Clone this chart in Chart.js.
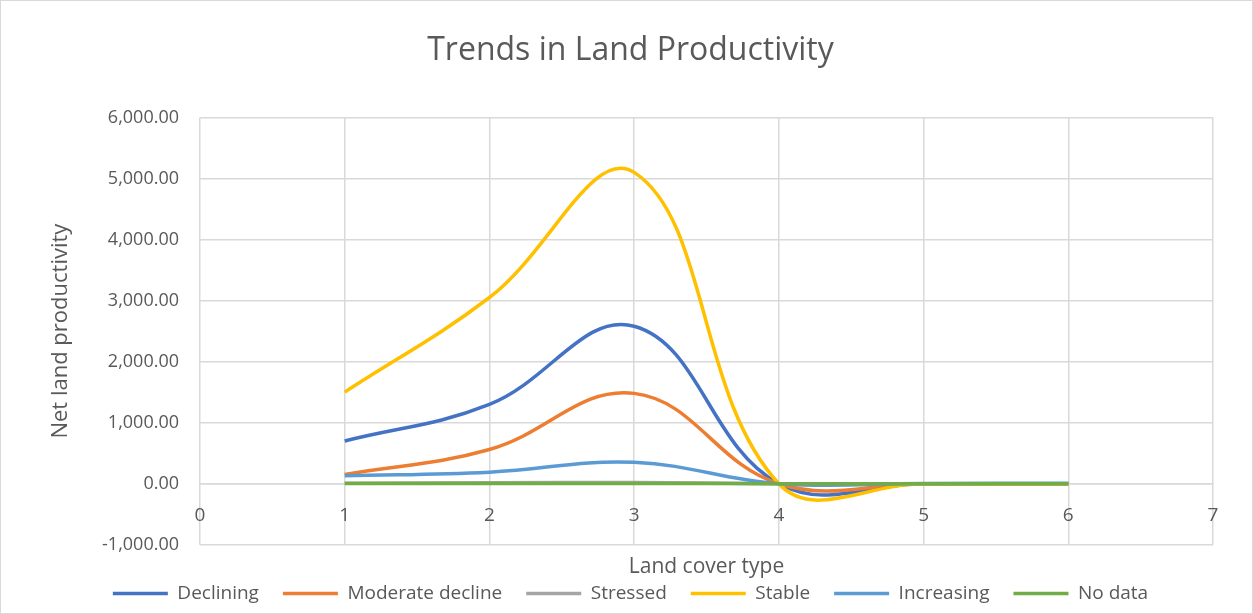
<!DOCTYPE html>
<html>
<head>
<meta charset="utf-8">
<script src="https://cdn.jsdelivr.net/npm/chart.js@4/dist/chart.umd.min.js"></script>
<style>
  html, body { margin: 0; padding: 0; background: #fff; }
  #wrap { position: relative; width: 1251px; height: 612px; border: 1px solid #d9d9d9; }
</style>
</head>
<body>
<div id="wrap"><canvas id="landChart"></canvas></div>
<script>
// land cover type index (x) for each value
const landCover = [1, 2, 3, 4, 5, 6];

const seriesNames = ['Declining', 'Moderate decline', 'Stressed', 'Stable', 'Increasing', 'No data'];
const seriesColors = ['#4472C4', '#ED7D31', '#A5A5A5', '#FFC000', '#5B9BD5', '#70AD47'];

const declining = [700, 1300, 2580, 0, 0, 0];
const moderateDecline = [150, 560, 1480, 0, 0, 0];
const stressed = [10, 15, 20, 0, 0, 0];
const stable = [1500, 3050, 5100, 0, 0, 0];
const increasing = [130, 190, 350, 0, 5, 10];
const noData = [5, 5, 5, 0, 0, 0];

const allValues = [declining, moderateDecline, stressed, stable, increasing, noData];

const fontFamily = '"Open Sans", sans-serif';
const grey = '#595959';

const datasets = allValues.map((vals, i) => ({
    label: seriesNames[i],
    data: vals.map((v, j) => ({ x: landCover[j], y: v })),
    borderColor: seriesColors[i],
    backgroundColor: seriesColors[i],
    borderWidth: 3.5,
    pointRadius: 0,
    pointStyle: 'line',
    tension: 0.4,
    fill: false,
    // later series sit on top
    order: seriesNames.length - i
}));

// legend keeps wide gaps between items but sits close to the axis title
const legendShift = {
    id: 'legendShift',
    afterInit(chart) {
        chart.legend.afterFit = function () { this.height -= 16; };
    }
};

const ctx = document.getElementById('landChart').getContext('2d');
const landChart = new Chart(ctx, {
    type: 'line',
    data: { datasets: datasets },
    plugins: [legendShift],
    options: {
        responsive: true,
        maintainAspectRatio: false,
        animation: false,
        layout: { padding: { left: 47, right: 39, top: 8, bottom: 0 } },
        scales: {
            x: {
                type: 'linear',
                min: 0,
                max: 7,
                position: { y: 0 },
                ticks: { stepSize: 1, color: grey, font: { family: fontFamily, size: 19 }, padding: 20 },
                grid: { color: '#d9d9d9', lineWidth: 1.5, drawTicks: false },
                border: { display: true, color: '#d9d9d9', width: 1.5 }
            },
            // only carries the axis title under the plot
            xTitle: {
                type: 'linear',
                axis: 'x',
                position: 'bottom',
                min: 0,
                max: 7,
                ticks: { display: false },
                grid: { display: false, drawTicks: false },
                border: { display: false },
                title: {
                    display: true,
                    text: 'Land cover type',
                    color: grey,
                    font: { family: fontFamily, size: 21 },
                    padding: { top: 10, bottom: -20 }
                }
            },
            y: {
                min: -1000,
                max: 6000,
                ticks: {
                    stepSize: 1000,
                    color: grey,
                    font: { family: fontFamily, size: 18 },
                    padding: 21,
                    callback: v => v.toLocaleString('en-US', { minimumFractionDigits: 2, maximumFractionDigits: 2 })
                },
                grid: { color: '#d9d9d9', lineWidth: 1.5, drawTicks: false },
                border: { display: false },
                title: {
                    display: true,
                    text: 'Net land productivity',
                    color: grey,
                    font: { family: fontFamily, size: 22 },
                    padding: { top: 0, bottom: 0 }
                },
                afterFit: s => { s.width = 152; }
            }
        },
        plugins: {
            title: {
                display: true,
                text: 'Trends in Land Productivity',
                color: grey,
                font: { family: fontFamily, size: 32, weight: 'normal' },
                padding: { top: 23, bottom: 47 }
            },
            legend: {
                position: 'bottom',
                reverse: true,
                labels: {
                    usePointStyle: true,
                    pointStyle: 'line',
                    pointStyleWidth: 55,
                    color: grey,
                    font: { family: fontFamily, size: 19 },
                    padding: 24
                }
            },
            tooltip: { enabled: false }
        }
    }
});
</script>
</body>
</html>
